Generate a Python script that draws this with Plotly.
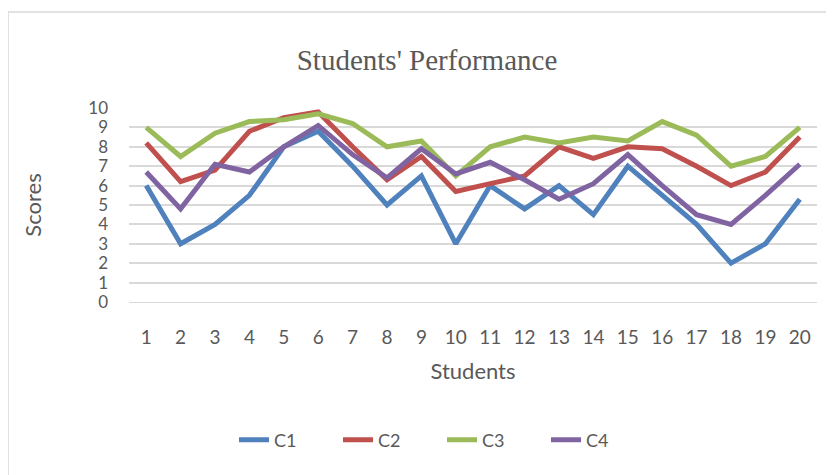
import plotly.graph_objects as go

students = [str(i) for i in range(1, 21)]
c1 = [6, 3, 4, 5.5, 8, 8.8, 7, 5, 6.5, 3, 6, 4.8, 6, 4.5, 7, 5.5, 4, 2, 3, 5.3]
c2 = [8.2, 6.2, 6.8, 8.8, 9.5, 9.8, 8, 6.3, 7.5, 5.7, 6.1, 6.5, 8, 7.4, 8, 7.9, 7, 6, 6.7, 8.5]
c3 = [9, 7.5, 8.7, 9.3, 9.4, 9.7, 9.2, 8, 8.3, 6.5, 8, 8.5, 8.2, 8.5, 8.3, 9.3, 8.6, 7, 7.5, 9]
c4 = [6.7, 4.8, 7.1, 6.7, 8, 9.1, 7.6, 6.4, 7.9, 6.6, 7.2, 6.3, 5.3, 6.1, 7.6, 6, 4.5, 4, 5.5, 7.1]
series_names = ["C1", "C2", "C3", "C4"]
colors = ["#4F81BD", "#C0504D", "#9BBB59", "#8064A2"]

FONT = "Lato, Noto Sans, sans-serif"
TXT = "#595959"
GRID = "#D9D9D9"

fig = go.Figure()
for name, vals, col in zip(series_names, [c1, c2, c3, c4], colors):
    fig.add_trace(go.Scatter(x=students, y=vals, name=name, mode="lines",
                             line=dict(color=col, width=5)))

# page body has an 8px margin, so the figure is drawn 8px in from the window corner
OFF = 8
W, H = 834 - OFF, 475 - OFF
L, R, T, B = 129 - OFF, 17, 108 - OFF, 173
pw, ph = W - L - R, H - T - B

def px2paper_x(px):
    return (px - OFF - L) / pw

def px2paper_y(py):
    return (H - B - (py - OFF)) / ph

fig.update_layout(
    width=W, height=H,
    margin=dict(l=L, r=R, t=T, b=B),
    paper_bgcolor="white", plot_bgcolor="white",
    title=dict(text="Students' Performance", x=(427 - OFF) / W, xref="container", xanchor="center",
               y=1 - (60 - OFF) / H, yref="container", yanchor="middle",
               font=dict(family="Liberation Serif, Times New Roman, serif", size=29, color=TXT)),
    xaxis=dict(type="category", range=[-0.5, len(students) - 0.5],
               showgrid=False, showline=True, linecolor=GRID, linewidth=1,
               ticks="", tickfont=dict(family=FONT, size=19, color=TXT), ticklabelstandoff=18,
               title=dict(text="Students", font=dict(family=FONT, size=22, color=TXT), standoff=16)),
    yaxis=dict(range=[0, 10], dtick=1, showgrid=True, gridcolor=GRID, gridwidth=1.5,
               zeroline=False, showline=False, ticks="",
               tickfont=dict(family=FONT, size=17, color=TXT), ticklabelstandoff=20,
               title=dict(text="Scores", font=dict(family=FONT, size=22, color=TXT), standoff=40)),
    showlegend=True,
    legend=dict(orientation="h", x=px2paper_x(442), xanchor="center",
                y=px2paper_y(440), yanchor="middle",
                font=dict(family=FONT, size=18, color=TXT), entrywidth=59, entrywidthmode="pixels",
                bgcolor="rgba(0,0,0,0)"),
    shapes=[
        dict(type="line", xref="paper", yref="paper",
             x0=px2paper_x(8), x1=px2paper_x(8), y0=px2paper_y(12), y1=px2paper_y(480),
             line=dict(color=GRID, width=1.5)),
        dict(type="line", xref="paper", yref="paper",
             x0=px2paper_x(8), x1=px2paper_x(840), y0=px2paper_y(12), y1=px2paper_y(12),
             line=dict(color=GRID, width=1.5)),
    ],
)

fig.write_html("out.html")
